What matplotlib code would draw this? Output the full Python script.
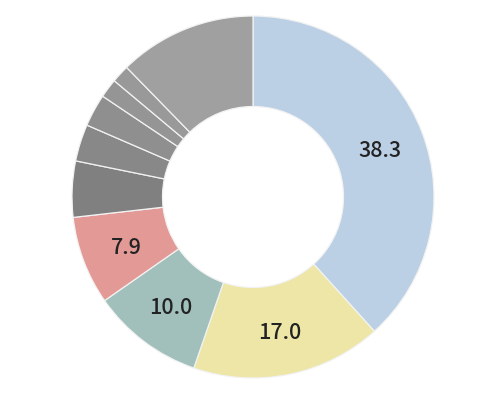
import matplotlib
matplotlib.use("Agg")
import matplotlib.pyplot as plt
import numpy as np

# slices, clockwise from 12 o'clock
values = [38.3, 17.0, 10.0, 7.9, 5.0, 3.3, 2.9, 1.7, 1.6, 12.3]
labels = ["38.3", "17.0", "10.0", "7.9", "", "", "", "", "", ""]
colors = ["#BBD0E5", "#EDE6A6", "#A1C0BB", "#E39A97",
          "#808080", "#888888", "#8F8F8F", "#959595", "#999999", "#A0A0A0"]

fig = plt.figure(figsize=(5.0, 3.97), dpi=100)
cx, cy, r = 253, 197, 181
ax = fig.add_axes([(cx - r) / 500, (397 - cy - r) / 397, 2 * r / 500, 2 * r / 397])

wedges, _ = ax.pie(values, colors=colors, startangle=90, counterclock=False,
                   radius=1.0, wedgeprops=dict(width=0.5, edgecolor="#F2F2F2", linewidth=0.9))

for w, lab in zip(wedges, labels):
    if not lab:
        continue
    ang = np.deg2rad((w.theta1 + w.theta2) / 2)
    rr = 0.75
    ax.text(rr * np.cos(ang), rr * np.sin(ang) - 0.015, lab, ha="center", va="center",
            fontsize=15.5, color="#222222", family=["Noto Sans CJK JP", "DejaVu Sans"],
            fontweight="medium")

ax.set_xlim(-1, 1)
ax.set_ylim(-1, 1)
fig.savefig("out.png", dpi=100)
